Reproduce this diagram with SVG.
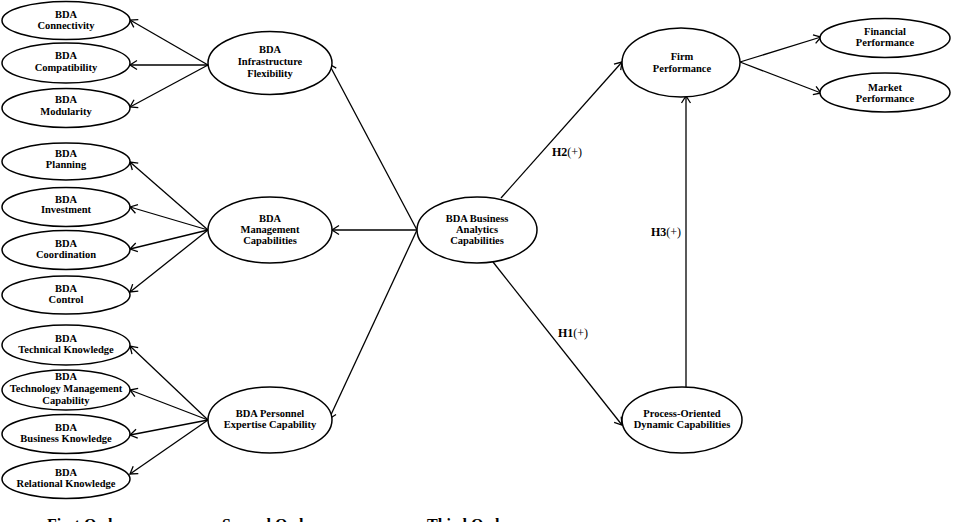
<svg xmlns="http://www.w3.org/2000/svg" width="956" height="522" viewBox="0 0 956 522">
<defs>
<marker id="ah" markerUnits="userSpaceOnUse" markerWidth="12" markerHeight="12" viewBox="-10 -6 12 12" refX="0" refY="0" orient="auto">
<path d="M-7,-4.5 L0,0 L-7,4.5" fill="none" stroke="#000" stroke-width="1.3"/>
</marker>
</defs>
<style>
ellipse{fill:#fff;stroke:#000;stroke-width:1.5}
text{font-family:"Liberation Serif","Times New Roman",serif;font-weight:bold;font-size:10.5px;text-anchor:middle;fill:#000}
.c line{stroke:#000;stroke-width:1.3;marker-end:url(#ah)}
.h{font-size:12px;text-anchor:start}
.h tspan.n{font-weight:normal}
.o{font-size:16px;text-anchor:start}
</style>
<rect width="956" height="522" fill="#fff"/>
<g class="c" id="connectors">
<line x1="208" y1="65" x2="130" y2="20"/>
<line x1="208" y1="65" x2="130" y2="65"/>
<line x1="208" y1="65" x2="130" y2="107"/>
<line x1="208" y1="230" x2="130" y2="162"/>
<line x1="208" y1="230" x2="130" y2="207"/>
<line x1="208" y1="230" x2="130" y2="249"/>
<line x1="208" y1="230" x2="130" y2="292"/>
<line x1="208" y1="420" x2="130" y2="346"/>
<line x1="208" y1="420" x2="130" y2="390"/>
<line x1="208" y1="420" x2="130" y2="435"/>
<line x1="208" y1="420" x2="130" y2="474"/>
<line x1="417" y1="230" x2="329" y2="64"/>
<line x1="417" y1="230" x2="332" y2="230"/>
<line x1="417" y1="230" x2="329" y2="419"/>
<line x1="501" y1="198" x2="622" y2="62"/>
<line x1="493" y1="262" x2="622" y2="425"/>
<line x1="686" y1="387" x2="686" y2="96"/>
<line x1="740" y1="62" x2="821" y2="37"/>
<line x1="740" y1="62" x2="821" y2="93"/>
</g>
<g id="n-connectivity"><ellipse cx="66" cy="20.5" rx="64" ry="19"/><text x="66" y="18">BDA</text><text x="66" y="29">Connectivity</text></g>
<g id="n-compatibility"><ellipse cx="66" cy="63" rx="64" ry="20"/><text x="66" y="59">BDA</text><text x="66" y="71">Compatibility</text></g>
<g id="n-modularity"><ellipse cx="66" cy="108" rx="64" ry="19.5"/><text x="66" y="103">BDA</text><text x="66" y="115">Modularity</text></g>
<g id="n-planning"><ellipse cx="66" cy="161.5" rx="64" ry="18.5"/><text x="66" y="157">BDA</text><text x="66" y="168">Planning</text></g>
<g id="n-investment"><ellipse cx="66" cy="207" rx="64" ry="19.5"/><text x="66" y="203">BDA</text><text x="66" y="213">Investment</text></g>
<g id="n-coordination"><ellipse cx="66" cy="250" rx="64" ry="19.5"/><text x="66" y="247">BDA</text><text x="66" y="258">Coordination</text></g>
<g id="n-control"><ellipse cx="66" cy="295" rx="64" ry="19"/><text x="66" y="292">BDA</text><text x="66" y="303">Control</text></g>
<g id="n-technical"><ellipse cx="66" cy="345" rx="64" ry="20"/><text x="66" y="342">BDA</text><text x="66" y="353">Technical Knowledge</text></g>
<g id="n-techmgmt"><ellipse cx="66" cy="390" rx="64" ry="20"/><text x="66" y="380">BDA</text><text x="66" y="392">Technology Management</text><text x="66" y="404">Capability</text></g>
<g id="n-business"><ellipse cx="66" cy="434" rx="64" ry="19.5"/><text x="66" y="431">BDA</text><text x="66" y="442">Business Knowledge</text></g>
<g id="n-relational"><ellipse cx="66" cy="479" rx="64" ry="19.5"/><text x="66" y="476">BDA</text><text x="66" y="487">Relational Knowledge</text></g>
<g id="n-infrastructure"><ellipse cx="270" cy="63" rx="62" ry="31.5"/><text x="270" y="53">BDA</text><text x="270" y="65">Infrastructure</text><text x="270" y="77">Flexibility</text></g>
<g id="n-management"><ellipse cx="270" cy="230" rx="62" ry="33"/><text x="270" y="222">BDA</text><text x="270" y="233">Management</text><text x="270" y="244">Capabilities</text></g>
<g id="n-personnel"><ellipse cx="270" cy="420" rx="62" ry="33"/><text x="270" y="417">BDA Personnel</text><text x="270" y="428">Expertise Capability</text></g>
<g id="n-bac"><ellipse cx="477" cy="230" rx="60" ry="33"/><text x="477" y="222">BDA Business</text><text x="477" y="233">Analytics</text><text x="477" y="244">Capabilities</text></g>
<g id="n-firm"><ellipse cx="681" cy="62.5" rx="59" ry="34.5"/><text x="682" y="60">Firm</text><text x="682" y="72">Performance</text></g>
<g id="n-financial"><ellipse cx="885" cy="38" rx="65" ry="19.5"/><text x="885" y="35">Financial</text><text x="885" y="46">Performance</text></g>
<g id="n-market"><ellipse cx="885" cy="92.5" rx="65" ry="19.5"/><text x="885" y="91">Market</text><text x="885" y="102">Performance</text></g>
<g id="n-process"><ellipse cx="682" cy="420" rx="60" ry="33"/><text x="682" y="417">Process-Oriented</text><text x="682" y="428">Dynamic Capabilities</text></g>
<g id="labels">
<text class="h" x="552" y="156">H2<tspan class="n">(+)</tspan></text>
<text class="h" x="651" y="236">H3<tspan class="n">(+)</tspan></text>
<text class="h" x="558" y="337">H1<tspan class="n">(+)</tspan></text>
<text class="o" x="47" y="530">First Order</text>
<text class="o" x="222" y="530">Second Order</text>
<text class="o" x="427" y="530">Third Order</text>
</g>
</svg>
